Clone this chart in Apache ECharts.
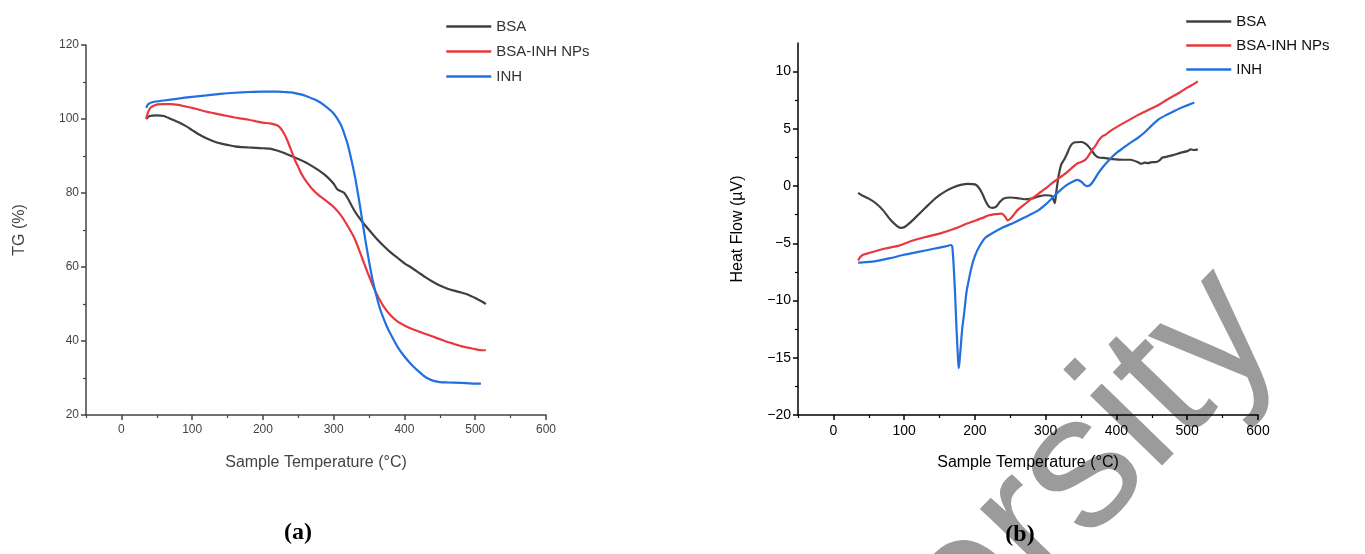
<!DOCTYPE html>
<html>
<head>
<meta charset="utf-8">
<script src="https://cdn.jsdelivr.net/npm/echarts@6/dist/echarts.min.js"></script>
<style>
html,body{margin:0;padding:0;background:#fff;}
#chart{width:1365px;height:554px;}
</style>
</head>
<body>
<div id="chart"></div>
<script>
// ---------- data: TG (panel a) ----------
const seriesNames = ['BSA', 'BSA-INH NPs', 'INH'];
const seriesColors = ['#404040', '#e8383d', '#2170e0'];

const tgBSA_T = [35,40,50,60,70,80,90,100,110,120,130,140,150,160,170,180,190,200,210,220,230,240,250,260,270,280,290,300,305,310,315,320,330,340,350,360,370,380,390,400,410,420,430,440,450,460,470,480,490,500,510,515];
const tgBSA_V = [100,100.8,101,100.8,100,99.2,98.2,97,95.8,94.8,94,93.4,93,92.6,92.4,92.3,92.2,92.1,92,91.5,90.8,90,89.2,88.3,87.2,86,84.5,82.5,81,80.5,80,78.5,75,72.3,70,67.8,65.8,64,62.5,61,59.8,58.5,57.2,56,55,54.2,53.6,53.1,52.5,51.6,50.6,50];

const tgNP_T = [35,38,42,50,60,70,80,90,100,110,120,130,140,150,160,170,180,190,200,210,220,225,230,235,240,245,250,255,260,270,280,290,300,310,320,330,340,350,360,370,380,390,400,410,420,430,440,450,460,470,480,490,500,510,515];
const tgNP_V = [100,102,103.2,103.9,104,104,103.8,103.4,103,102.5,102,101.6,101.2,100.8,100.4,100.1,99.8,99.4,99,98.8,98.3,97.5,96,94,91.5,89,87,85,83.5,81,79.2,77.8,76.2,74,71,67.5,62.5,57.5,53,49.5,47,45.3,44.2,43.3,42.6,41.9,41.2,40.5,39.8,39.2,38.6,38.2,37.8,37.5,37.5];

const tgINH_T = [35,38,45,60,80,100,120,140,160,180,200,220,230,240,250,260,270,280,290,300,310,315,320,325,330,335,340,345,350,355,360,365,370,375,380,390,400,410,420,430,440,450,460,480,500,508];
const tgINH_V = [103,104,104.6,105,105.5,106,106.4,106.8,107.1,107.3,107.4,107.4,107.3,107.2,106.8,106.3,105.5,104.6,103.2,101.5,98.5,96,93,89,84.5,79,73,67,61.5,56.5,52.5,49,46.3,44,42,38.5,35.8,33.6,31.8,30.2,29.3,28.9,28.8,28.7,28.5,28.5];

// ---------- data: DSC (panel b) ----------
const dscBSA_T = [35,40,50,60,70,80,90,95,100,110,120,130,140,150,160,170,180,190,200,205,210,215,220,225,230,235,240,250,260,270,280,290,300,308,311,313,315,318,322,326,330,335,340,350,355,360,365,370,375,385,395,410,420,430,435,440,445,450,455,460,465,470,480,490,500,505,510,515];
const dscBSA_V = [-0.6,-0.8,-1.1,-1.5,-2.1,-2.9,-3.5,-3.65,-3.6,-3.1,-2.5,-1.9,-1.3,-0.8,-0.4,-0.1,0.1,0.2,0.15,-0.1,-0.6,-1.3,-1.8,-1.9,-1.8,-1.4,-1.1,-1.0,-1.05,-1.15,-1.1,-0.9,-0.8,-0.85,-1.2,-1.5,-0.5,0.8,1.9,2.3,2.8,3.5,3.8,3.85,3.75,3.5,3.1,2.7,2.5,2.45,2.35,2.3,2.3,2.1,1.95,2.05,2.0,2.1,2.1,2.2,2.5,2.55,2.7,2.9,3.05,3.2,3.15,3.2];

const dscNP_T = [35,38,42,50,70,93,110,130,150,170,190,210,220,230,238,243,246,250,255,260,270,280,290,300,310,320,330,340,345,350,355,360,365,370,375,380,385,390,400,410,420,430,440,450,460,470,480,490,500,510,515];
const dscNP_V = [-6.5,-6.2,-6.0,-5.85,-5.5,-5.2,-4.8,-4.45,-4.15,-3.75,-3.25,-2.8,-2.55,-2.45,-2.4,-2.7,-3.0,-2.85,-2.5,-2.1,-1.6,-1.1,-0.65,-0.2,0.3,0.75,1.2,1.75,2.0,2.1,2.25,2.6,3.1,3.5,4.0,4.35,4.5,4.75,5.15,5.5,5.85,6.2,6.5,6.8,7.1,7.5,7.85,8.2,8.6,8.95,9.15];

const dscINH_T = [35,45,60,80,100,120,140,160,166,168,170,172,174,176,177,178,180,182,185,188,192,196,200,206,215,225,240,255,270,290,300,310,320,330,340,345,350,355,358,362,367,373,380,390,400,410,420,430,440,450,460,470,480,490,500,510];
const dscINH_V = [-6.7,-6.65,-6.55,-6.3,-6.0,-5.75,-5.5,-5.25,-5.15,-5.3,-7.0,-9.5,-12.5,-15.0,-15.9,-15.5,-14.0,-12.5,-11.0,-9.3,-8.0,-6.9,-6.1,-5.3,-4.5,-4.1,-3.6,-3.2,-2.75,-2.1,-1.6,-1.0,-0.4,0.1,0.45,0.55,0.4,0.1,0.0,0.05,0.4,1.0,1.6,2.3,2.9,3.35,3.8,4.2,4.7,5.3,5.85,6.2,6.5,6.8,7.05,7.3];

// ---------- axis ticks ----------
const tempTicks = [0,100,200,300,400,500,600];
const tempMinorTicks = [-50,50,150,250,350,450,550];
const tgTicks = [20,40,60,80,100,120];
const tgMinorTicks = [30,50,70,90,110];
const dscTicks = [-20,-15,-10,-5,0,5,10];
const dscMinorTicks = [-17.5,-12.5,-7.5,-2.5,2.5,7.5];

const zip = (xs, ys) => xs.map((x, i) => [x, ys[i]]);
const FONT = 'Liberation Sans';

function xMajor(grid, color, labelColor, fs) {
  return {
    type: 'value', gridIndex: grid, min: -50, max: 600, position: 'bottom',
    name: 'Sample Temperature (°C)', nameLocation: 'middle', nameGap: 40,
    nameTextStyle: {fontFamily: FONT, fontSize: 16, color: labelColor},
    axisLine: {onZero: false, lineStyle: {color: color, width: 1.5}},
    axisTick: {show: true, length: 5, customValues: tempTicks, lineStyle: {color: color, width: 1.5}},
    axisLabel: {customValues: tempTicks, color: labelColor, fontFamily: FONT, fontSize: fs, margin: 9},
    splitLine: {show: false}
  };
}
function xMinor(grid, color) {
  return {
    type: 'value', gridIndex: grid, min: -50, max: 600, position: 'bottom',
    axisLine: {show: false, onZero: false},
    axisTick: {show: true, length: 3, customValues: tempMinorTicks, lineStyle: {color: color, width: 1.2}},
    axisLabel: {show: false}, splitLine: {show: false}
  };
}
function yMajor(grid, min, max, ticks, name, gap, color, labelColor, fs) {
  return {
    type: 'value', gridIndex: grid, min: min, max: max, position: 'left',
    name: name, nameLocation: 'middle', nameGap: gap, nameRotate: 90,
    nameTextStyle: {fontFamily: FONT, fontSize: 16, color: labelColor},
    axisLine: {onZero: false, lineStyle: {color: color, width: 1.5}},
    axisTick: {show: true, length: 5, customValues: ticks, lineStyle: {color: color, width: 1.5}},
    axisLabel: {customValues: ticks, color: labelColor, fontFamily: FONT, fontSize: fs, margin: 7,
      formatter: v => String(v).replace('-', '\u2212')},
    splitLine: {show: false}
  };
}
function yMinor(grid, min, max, ticks, color) {
  return {
    type: 'value', gridIndex: grid, min: min, max: max, position: 'left',
    axisLine: {show: false, onZero: false},
    axisTick: {show: true, length: 3, customValues: ticks, lineStyle: {color: color, width: 1.2}},
    axisLabel: {show: false}, splitLine: {show: false}
  };
}
function line(name, color, data, xi, yi) {
  return {
    type: 'line', name: name, xAxisIndex: xi, yAxisIndex: yi, data: data,
    symbol: 'none', smooth: 0.2, color: color,
    lineStyle: {color: color, width: 2.2}, z: 3, animation: false
  };
}

const chart = echarts.init(document.getElementById('chart'), null, {renderer: 'canvas'});
chart.setOption({
  animation: false,
  backgroundColor: '#ffffff',
  grid: [
    {left: 86, top: 45, width: 460, height: 370},
    {left: 798, top: 43, width: 460, height: 372}
  ],
  legend: [
    {data: seriesNames, orient: 'vertical', left: 440, top: 14, itemWidth: 45, itemHeight: 14, itemGap: 10,
     itemStyle: {opacity: 0}, lineStyle: {width: 2.5},
     textStyle: {fontFamily: FONT, fontSize: 15, color: '#333'}},
    {data: seriesNames, orient: 'vertical', left: 1180, top: 9, itemWidth: 45, itemHeight: 14, itemGap: 9,
     itemStyle: {opacity: 0}, lineStyle: {width: 2.5},
     textStyle: {fontFamily: FONT, fontSize: 15, color: '#111'}}
  ],
  xAxis: [
    xMajor(0, '#444', '#444', 12), xMinor(0, '#444'),
    xMajor(1, '#000', '#000', 14), xMinor(1, '#000')
  ],
  yAxis: [
    yMajor(0, 20, 120, tgTicks, 'TG (%)', 58, '#444', '#444', 12), yMinor(0, 20, 120, tgMinorTicks, '#444'),
    yMajor(1, -20, 12.5, dscTicks, 'Heat Flow (µV)', 52, '#000', '#000', 14), yMinor(1, -20, 12.5, dscMinorTicks, '#000')
  ],
  series: [
    line(seriesNames[0], seriesColors[0], zip(tgBSA_T, tgBSA_V), 0, 0),
    line(seriesNames[1], seriesColors[1], zip(tgNP_T, tgNP_V), 0, 0),
    line(seriesNames[2], seriesColors[2], zip(tgINH_T, tgINH_V), 0, 0),
    line(seriesNames[0], seriesColors[0], zip(dscBSA_T, dscBSA_V), 2, 2),
    line(seriesNames[1], seriesColors[1], zip(dscNP_T, dscNP_V), 2, 2),
    line(seriesNames[2], seriesColors[2], zip(dscINH_T, dscINH_V), 2, 2)
  ],
  graphic: [
    {type: 'text', x: 667, y: 900, rotation: 0.8, z: -10, silent: true,
     style: {text: 'University', fill: '#9b9b9b', font: '190px "Liberation Sans"', textAlign: 'left', textVerticalAlign: 'middle'}},
    {type: 'text', x: 298, y: 533, z: 10,
     style: {text: '(a)', fill: '#000', font: 'bold 24px "Liberation Serif"', textAlign: 'center', textVerticalAlign: 'middle'}},
    {type: 'text', x: 1020, y: 535, z: 10,
     style: {text: '(b)', fill: '#000', font: 'bold 24px "Liberation Serif"', textAlign: 'center', textVerticalAlign: 'middle'}}
  ]
});
</script>
</body>
</html>
